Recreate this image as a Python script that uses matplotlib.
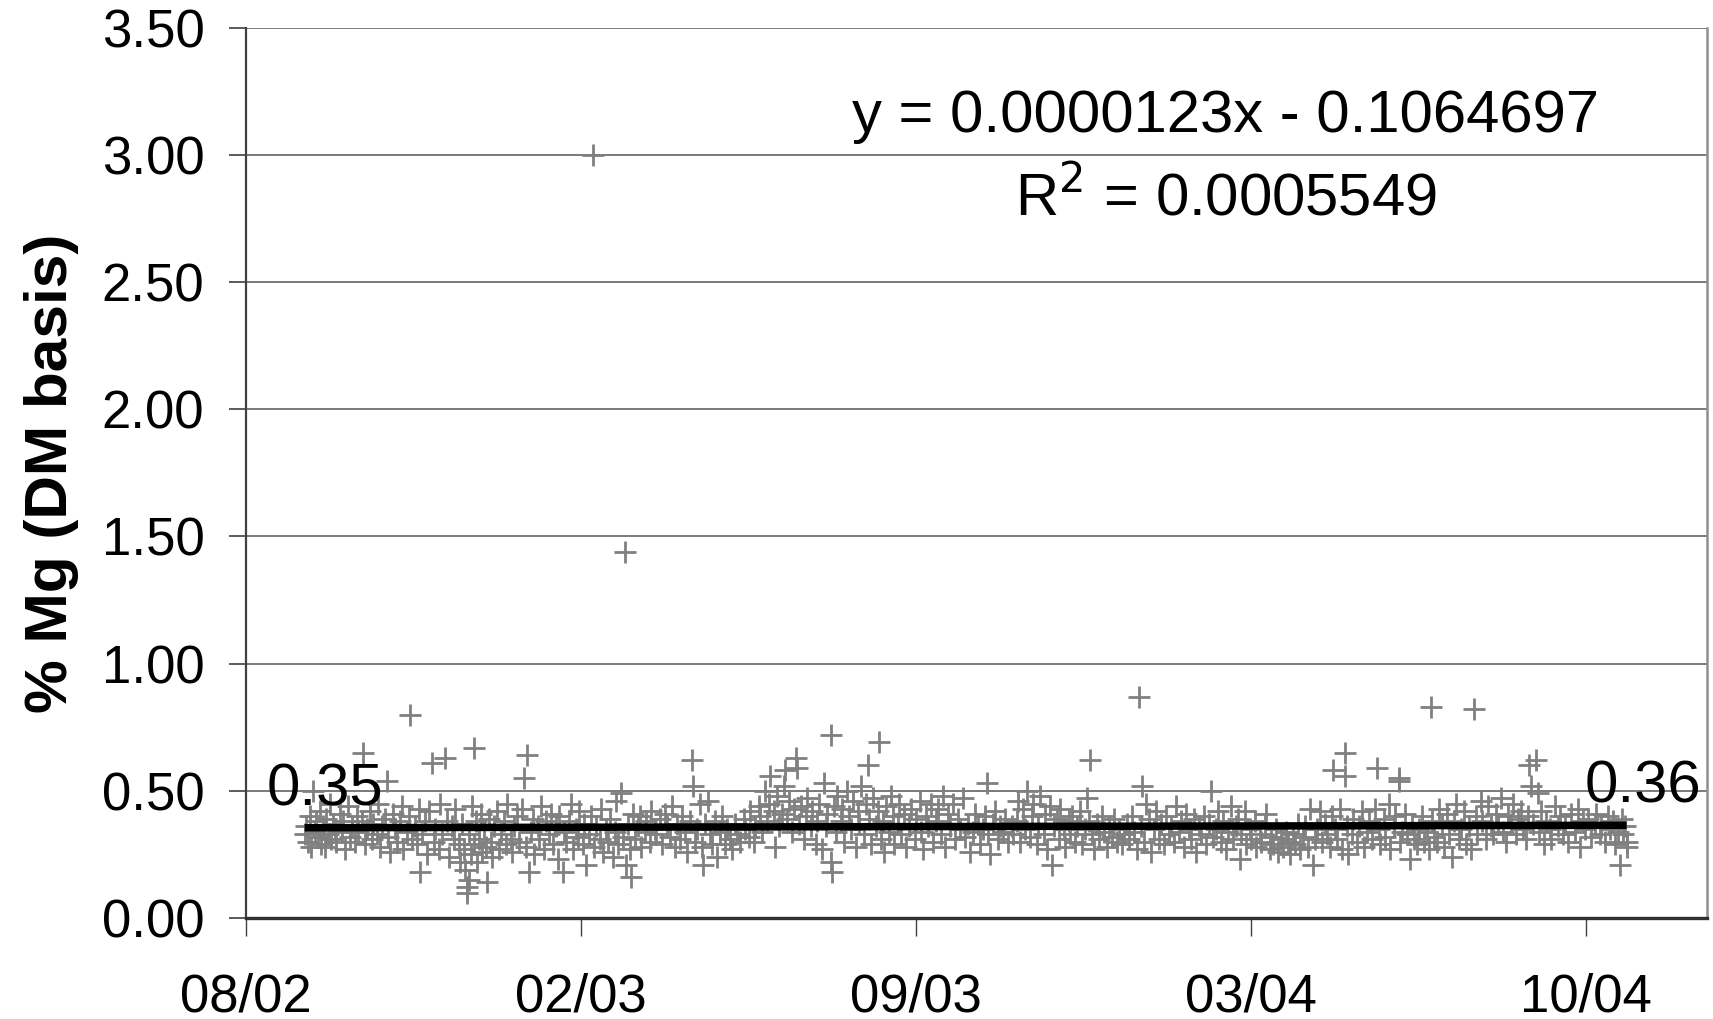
import matplotlib
matplotlib.use("Agg")
import matplotlib.pyplot as plt

plt.rcParams['font.family'] = ['Liberation Sans', 'DejaVu Sans']

# Sample dates as spreadsheet day serials (1900 date system) and Mg content (% of dry matter)
sample_day = [
    37504, 37505, 37506, 37507, 37508, 37509, 37510, 37511, 37512, 37513,
    37514, 37515, 37516, 37517, 37518, 37519, 37520, 37521, 37522, 37523,
    37525, 37526, 37527, 37528, 37530, 37531, 37532, 37534, 37535, 37536,
    37538, 37539, 37540, 37541, 37543, 37544, 37545, 37547, 37548, 37549,
    37550, 37552, 37553, 37554, 37555, 37557, 37558, 37559, 37561, 37562,
    37563, 37565, 37566, 37567, 37568, 37570, 37571, 37572, 37573, 37574,
    37576, 37577, 37578, 37580, 37581, 37582, 37584, 37585, 37586, 37588,
    37589, 37590, 37592, 37593, 37594, 37596, 37597, 37598, 37599, 37600,
    37601, 37601, 37602, 37602, 37603, 37604, 37605, 37605, 37606, 37607,
    37608, 37609, 37610, 37611, 37612, 37613, 37614, 37615, 37616, 37617,
    37619, 37620, 37621, 37623, 37624, 37625, 37627, 37628, 37629, 37631,
    37632, 37634, 37635, 37636, 37637, 37638, 37639, 37640, 37641, 37643,
    37644, 37645, 37647, 37648, 37650, 37651, 37652, 37654, 37655, 37656,
    37658, 37659, 37660, 37662, 37663, 37664, 37666, 37667, 37668, 37670,
    37671, 37672, 37674, 37675, 37676, 37677, 37678, 37680, 37681, 37682,
    37684, 37685, 37686, 37688, 37689, 37690, 37691, 37693, 37694, 37695,
    37696, 37697, 37698, 37699, 37700, 37701, 37703, 37704, 37705, 37707,
    37708, 37710, 37711, 37713, 37714, 37716, 37717, 37719, 37720, 37722,
    37723, 37725, 37726, 37728, 37729, 37731, 37732, 37734, 37735, 37736,
    37737, 37738, 37740, 37741, 37742, 37743, 37745, 37746, 37747, 37749,
    37750, 37752, 37753, 37755, 37756, 37758, 37759, 37761, 37762, 37764,
    37766, 37767, 37769, 37770, 37772, 37773, 37775, 37776, 37777, 37779,
    37780, 37781, 37782, 37784, 37785, 37786, 37787, 37789, 37790, 37791,
    37792, 37793, 37795, 37796, 37797, 37798, 37799, 37800, 37802, 37803,
    37804, 37806, 37807, 37809, 37810, 37811, 37813, 37814, 37815, 37816,
    37818, 37818, 37819, 37820, 37821, 37822, 37824, 37825, 37826, 37828,
    37829, 37830, 37831, 37833, 37834, 37835, 37836, 37838, 37839, 37840,
    37841, 37842, 37843, 37845, 37846, 37847, 37848, 37849, 37850, 37851,
    37853, 37854, 37855, 37856, 37858, 37859, 37860, 37862, 37863, 37865,
    37866, 37868, 37869, 37871, 37872, 37873, 37875, 37876, 37878, 37879,
    37881, 37882, 37884, 37885, 37886, 37888, 37889, 37891, 37892, 37894,
    37895, 37897, 37898, 37900, 37901, 37903, 37904, 37906, 37907, 37909,
    37910, 37911, 37912, 37913, 37915, 37916, 37918, 37919, 37921, 37922,
    37924, 37926, 37927, 37929, 37930, 37931, 37933, 37934, 37935, 37937,
    37938, 37939, 37941, 37942, 37943, 37945, 37946, 37947, 37949, 37950,
    37951, 37953, 37954, 37955, 37957, 37958, 37960, 37961, 37962, 37964,
    37965, 37967, 37968, 37970, 37971, 37972, 37973, 37974, 37975, 37977,
    37978, 37980, 37981, 37983, 37984, 37986, 37987, 37989, 37990, 37992,
    37993, 37995, 37996, 37998, 37999, 38001, 38002, 38003, 38004, 38005,
    38006, 38008, 38009, 38011, 38012, 38014, 38015, 38017, 38018, 38020,
    38021, 38023, 38024, 38026, 38027, 38029, 38030, 38032, 38033, 38035,
    38036, 38038, 38039, 38041, 38042, 38044, 38045, 38046, 38048, 38049,
    38051, 38052, 38054, 38055, 38057, 38058, 38060, 38061, 38062, 38063,
    38065, 38066, 38068, 38069, 38071, 38072, 38074, 38075, 38077, 38078,
    38080, 38081, 38082, 38084, 38085, 38087, 38088, 38090, 38091, 38092,
    38094, 38095, 38097, 38098, 38100, 38101, 38103, 38104, 38106, 38107,
    38108, 38110, 38111, 38113, 38114, 38116, 38117, 38118, 38119, 38120,
    38122, 38123, 38125, 38125, 38126, 38127, 38129, 38130, 38132, 38133,
    38135, 38136, 38138, 38139, 38141, 38143, 38144, 38145, 38146, 38148,
    38149, 38151, 38152, 38154, 38155, 38157, 38157, 38158, 38159, 38161,
    38162, 38164, 38165, 38166, 38168, 38169, 38171, 38172, 38174, 38175,
    38176, 38177, 38178, 38180, 38181, 38183, 38184, 38186, 38187, 38189,
    38190, 38191, 38193, 38194, 38196, 38197, 38199, 38200, 38202, 38203,
    38204, 38206, 38207, 38209, 38210, 38212, 38213, 38215, 38216, 38218,
    38219, 38221, 38222, 38224, 38225, 38227, 38228, 38230, 38231, 38233,
    38234, 38235, 38236, 38237, 38239, 38240, 38241, 38242, 38244, 38245,
    38247, 38248, 38250, 38252, 38253, 38255, 38256, 38258, 38260, 38262,
    38264, 38265, 38267, 38268, 38270, 38272, 38274, 38275, 38277, 38278,
    38280, 38282, 38283, 38285, 38286, 38288, 38289, 38290, 38291, 38292,
    38293, 38293,
]

mg_pct = [
    0.33, 0.36, 0.30, 0.40, 0.28, 0.50, 0.34, 0.38, 0.32, 0.42,
    0.29, 0.36, 0.28, 0.39, 0.33, 0.45, 0.31, 0.37, 0.35, 0.30,
    0.41, 0.34, 0.38, 0.27, 0.44, 0.32, 0.36, 0.30, 0.40, 0.34,
    0.38, 0.65, 0.29, 0.35, 0.42, 0.31, 0.37, 0.33, 0.45, 0.28,
    0.36, 0.39, 0.54, 0.32, 0.26, 0.41, 0.35, 0.30, 0.38, 0.44,
    0.27, 0.34, 0.40, 0.80, 0.31, 0.36, 0.29, 0.43, 0.18, 0.33,
    0.38, 0.25, 0.42, 0.61, 0.30, 0.35, 0.27, 0.45, 0.33, 0.63,
    0.38, 0.24, 0.36, 0.31, 0.43, 0.29, 0.22, 0.37, 0.27, 0.19,
    0.10, 0.12, 0.15, 0.33, 0.25, 0.44, 0.67, 0.29, 0.38, 0.22,
    0.31, 0.41, 0.26, 0.35, 0.28, 0.14, 0.39, 0.30, 0.24, 0.36,
    0.42, 0.27, 0.33, 0.38, 0.29, 0.45, 0.31, 0.26, 0.36, 0.40,
    0.30, 0.43, 0.55, 0.28, 0.64, 0.18, 0.34, 0.39, 0.25, 0.36,
    0.31, 0.44, 0.27, 0.38, 0.33, 0.41, 0.29, 0.36, 0.23, 0.40,
    0.18, 0.34, 0.30, 0.38, 0.45, 0.27, 0.35, 0.32, 0.42, 0.29,
    0.37, 0.21, 0.33, 0.40, 3.00, 0.28, 0.36, 0.31, 0.43, 0.26,
    0.35, 0.30, 0.39, 0.24, 0.34, 0.46, 0.29, 0.49, 0.32, 1.44,
    0.21, 0.37, 0.27, 0.16, 0.41, 0.31, 0.36, 0.40, 0.28, 0.34,
    0.38, 0.30, 0.42, 0.35, 0.33, 0.39, 0.29, 0.41, 0.36, 0.32,
    0.44, 0.28, 0.37, 0.31, 0.40, 0.34, 0.26, 0.38, 0.62, 0.52,
    0.30, 0.35, 0.45, 0.28, 0.21, 0.37, 0.46, 0.33, 0.29, 0.38,
    0.24, 0.34, 0.40, 0.29, 0.35, 0.31, 0.27, 0.37, 0.33, 0.30,
    0.39, 0.35, 0.32, 0.42, 0.30, 0.36, 0.44, 0.40, 0.34, 0.50,
    0.38, 0.45, 0.56, 0.42, 0.28, 0.48, 0.36, 0.41, 0.52, 0.58,
    0.39, 0.46, 0.34, 0.43, 0.63, 0.59, 0.37, 0.44, 0.31, 0.40,
    0.47, 0.36, 0.42, 0.29, 0.38, 0.45, 0.27, 0.53, 0.36, 0.41,
    0.72, 0.22, 0.18, 0.44, 0.34, 0.48, 0.38, 0.43, 0.30, 0.50,
    0.40, 0.35, 0.46, 0.28, 0.42, 0.37, 0.52, 0.33, 0.45, 0.60,
    0.39, 0.29, 0.47, 0.36, 0.42, 0.69, 0.31, 0.38, 0.26, 0.44,
    0.34, 0.48, 0.40, 0.29, 0.37, 0.45, 0.33, 0.41, 0.28, 0.36,
    0.43, 0.31, 0.39, 0.46, 0.34, 0.27, 0.40, 0.36, 0.45, 0.30,
    0.38, 0.43, 0.33, 0.48, 0.28, 0.41, 0.36, 0.45, 0.31, 0.39,
    0.35, 0.47, 0.32, 0.37, 0.26, 0.34, 0.41, 0.37, 0.29, 0.35,
    0.40, 0.53, 0.33, 0.25, 0.37, 0.42, 0.31, 0.36, 0.34, 0.39,
    0.30, 0.36, 0.33, 0.38, 0.46, 0.30, 0.43, 0.35, 0.50, 0.32,
    0.40, 0.45, 0.29, 0.37, 0.48, 0.33, 0.41, 0.27, 0.44, 0.21,
    0.36, 0.39, 0.31, 0.43, 0.35, 0.28, 0.38, 0.33, 0.40, 0.30,
    0.36, 0.42, 0.29, 0.35, 0.47, 0.38, 0.62, 0.33, 0.27, 0.37,
    0.31, 0.40, 0.34, 0.28, 0.36, 0.32, 0.39, 0.30, 0.35, 0.29,
    0.33, 0.37, 0.31, 0.40, 0.34, 0.27, 0.87, 0.36, 0.52, 0.30,
    0.45, 0.39, 0.26, 0.35, 0.42, 0.31, 0.37, 0.29, 0.40, 0.33,
    0.36, 0.30, 0.44, 0.34, 0.38, 0.28, 0.41, 0.35, 0.31, 0.39,
    0.26, 0.36, 0.33, 0.40, 0.29, 0.37, 0.50, 0.32, 0.35, 0.42,
    0.30, 0.38, 0.27, 0.34, 0.44, 0.31, 0.36, 0.39, 0.23, 0.33,
    0.42, 0.29, 0.35, 0.31, 0.38, 0.28, 0.33, 0.30, 0.36, 0.41,
    0.27, 0.32, 0.29, 0.35, 0.26, 0.31, 0.28, 0.34, 0.30, 0.25,
    0.33, 0.29, 0.37, 0.27, 0.32, 0.36, 0.28, 0.43, 0.21, 0.31,
    0.35, 0.42, 0.30, 0.37, 0.33, 0.28, 0.40, 0.58, 0.35, 0.31,
    0.43, 0.27, 0.65, 0.56, 0.36, 0.25, 0.33, 0.39, 0.30, 0.36,
    0.42, 0.28, 0.34, 0.38, 0.31, 0.43, 0.59, 0.35, 0.29, 0.39,
    0.32, 0.45, 0.27, 0.36, 0.40, 0.55, 0.54, 0.30, 0.34, 0.41,
    0.33, 0.23, 0.37, 0.31, 0.29, 0.35, 0.40, 0.30, 0.34, 0.27,
    0.83, 0.38, 0.32, 0.30, 0.43, 0.36, 0.28, 0.41, 0.33, 0.24,
    0.38, 0.45, 0.31, 0.35, 0.42, 0.29, 0.36, 0.27, 0.82, 0.40,
    0.33, 0.46, 0.38, 0.31, 0.44, 0.36, 0.33, 0.41, 0.37, 0.47,
    0.34, 0.30, 0.40, 0.37, 0.45, 0.33, 0.39, 0.42, 0.35, 0.31,
    0.40, 0.60, 0.52, 0.37, 0.62, 0.49, 0.34, 0.42, 0.29, 0.38,
    0.35, 0.31, 0.44, 0.36, 0.40, 0.33, 0.37, 0.30, 0.41, 0.34,
    0.43, 0.28, 0.38, 0.35, 0.39, 0.32, 0.37, 0.41, 0.33, 0.36,
    0.30, 0.40, 0.35, 0.38, 0.29, 0.34, 0.21, 0.39, 0.33, 0.36,
    0.30, 0.28,
]

# Linear trend reported for the series
trend_slope = 0.0000123
trend_intercept = -0.1064697
trend_r2 = 0.0005549

# Axis settings (date axis starts 1 Aug 2002, major unit 200 days)
x_start, x_end = 37469, 38341
x_ticks = [37469, 37669, 37869, 38069, 38269]
x_tick_labels = ["08/02", "02/03", "09/03", "03/04", "10/04"]
y_ticks = [0.0, 0.5, 1.0, 1.5, 2.0, 2.5, 3.0, 3.5]

fig = plt.figure(figsize=(17.13, 10.19), dpi=100)
ax = fig.add_axes([246 / 1713, 1 - 918 / 1019, (1707 - 246) / 1713, (918 - 27.7) / 1019])

ax.plot(sample_day, mg_pct, linestyle="none", marker="+", markersize=16,
        markeredgewidth=2.0, color="#808080", zorder=3)

t0, t1 = min(sample_day), max(sample_day)
y0 = trend_slope * t0 + trend_intercept
y1 = trend_slope * t1 + trend_intercept
ax.plot([t0, t1], [y0, y1], color="black", linewidth=5.4, solid_capstyle="butt", zorder=4)

ax.annotate(f"{y0:.2f}", xy=(t0, y0), xytext=(20, 38), textcoords="offset pixels",
            ha="center", va="center", fontsize=43, zorder=5)
ax.annotate(f"{y1:.2f}", xy=(t1, y1), xytext=(16, 38), textcoords="offset pixels",
            ha="center", va="center", fontsize=43, zorder=5)

ax.text((1226 - 246) / (1707 - 246), (918 - 117) / (918 - 27.7),
        f"y = {trend_slope:.7f}x - {abs(trend_intercept):.7f}",
        transform=ax.transAxes, ha="center", va="center", fontsize=43)
ax.text((1226 - 246) / (1707 - 246), (918 - 198) / (918 - 27.7),
        f"R$^2$ = {trend_r2:.7f}",
        transform=ax.transAxes, ha="center", va="center", fontsize=43)

ax.set_xlim(x_start, x_end)
ax.set_ylim(0, 3.5)
ax.set_xticks(x_ticks)
ax.set_xticklabels(x_tick_labels)
ax.set_yticks(y_ticks)
ax.set_yticklabels([f"{v:.2f}" for v in y_ticks])

ax.yaxis.grid(True, color="#707070", linewidth=1.3)
ax.set_axisbelow(True)

ax.spines["top"].set_visible(False)
ax.spines["left"].set_color("#404040")
ax.spines["left"].set_linewidth(1.6)
ax.spines["right"].set_color("#909090")
ax.spines["right"].set_linewidth(1.8)
ax.spines["bottom"].set_color("#303030")
ax.spines["bottom"].set_linewidth(2.4)

ax.tick_params(axis="y", direction="out", length=12, width=1.2, color="#404040",
               labelsize=38, pad=18)
ax.tick_params(axis="x", direction="out", length=13, width=1.0, color="#404040",
               labelsize=38, pad=26)

ax.set_ylabel("% Mg (DM basis)", fontsize=43.5, fontweight="bold")
ax.yaxis.set_label_coords(-0.114, 0.5)

fig.savefig("out.png", dpi=100, facecolor="white")
